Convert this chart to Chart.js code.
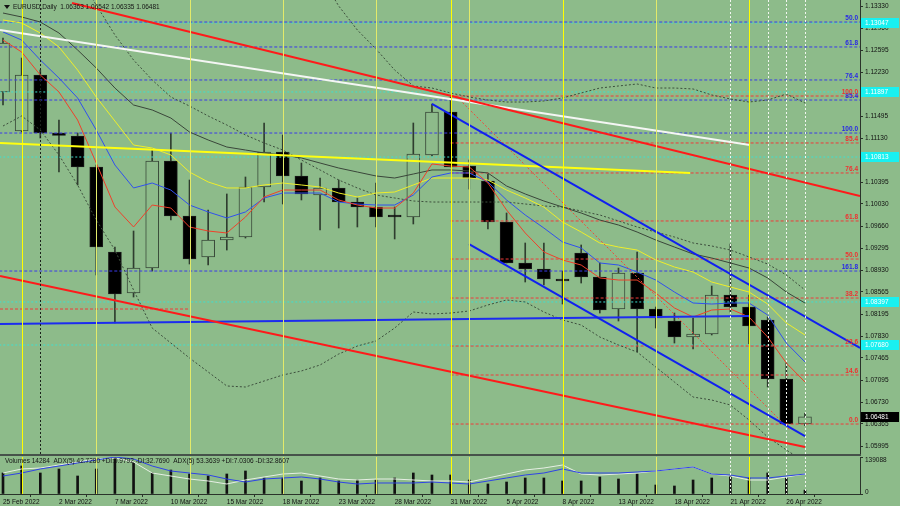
<!DOCTYPE html>
<html>
<head>
<meta charset="utf-8">
<script src="https://cdn.jsdelivr.net/npm/chart.js@4.4.0/dist/chart.umd.min.js"></script>
<style>
html, body { margin: 0; padding: 0; background: #8dbb8a; }
#wrap { position: relative; width: 900px; height: 506px; overflow: hidden; }
#main { position: absolute; left: 0; top: 0; }
#vol { position: absolute; left: 0; top: 456px; }
</style>
</head>
<body>
<div id="wrap">
<canvas id="main" width="900" height="456"></canvas>
<canvas id="vol" width="900" height="50"></canvas>
</div>
<script>
// EURUSD daily, 25 Feb 2022 .. 27 Apr 2022 (bar index 0..43)
const dates = ["25 Feb 2022", "2 Mar 2022", "7 Mar 2022", "10 Mar 2022", "15 Mar 2022", "18 Mar 2022", "23 Mar 2022",
    "28 Mar 2022", "31 Mar 2022", "5 Apr 2022", "8 Apr 2022", "13 Apr 2022", "18 Apr 2022", "21 Apr 2022", "26 Apr 2022"];
const dateBars = [0, 3, 6, 9, 12, 15, 18, 21, 24, 27, 30, 33, 36, 39, 42];

const openP = [1.11897, 1.11247, 1.1218, 1.11213, 1.11163, 1.10647, 1.0923, 1.08547, 1.08963, 1.10747, 1.0983,
    1.09147, 1.0943, 1.0948, 1.10313, 1.10897, 1.10497, 1.1018, 1.10297, 1.10063, 1.0998, 1.09847, 1.09813,
    1.10847, 1.11563, 1.10663, 1.10413, 1.0973, 1.09047, 1.08947, 1.0878, 1.09213, 1.08813, 1.0828, 1.0888,
    1.0828, 1.0808, 1.07813, 1.07863, 1.08513, 1.08313, 1.08097, 1.07113, 1.06363];
const highP = [1.12797, 1.12463, 1.12263, 1.1143, 1.11213, 1.1068, 1.09313, 1.0958, 1.10947, 1.11213, 1.1043,
    1.0993, 1.10197, 1.1048, 1.1138, 1.1118, 1.10713, 1.10463, 1.1043, 1.1013, 1.1038, 1.0998, 1.1138,
    1.11697, 1.11813, 1.10763, 1.1053, 1.0988, 1.0938, 1.0938, 1.08913, 1.09347, 1.09047, 1.08963, 1.0923,
    1.08313, 1.08213, 1.0813, 1.08663, 1.09363, 1.08513, 1.08147, 1.0738, 1.06542];
const lowP = [1.1168, 1.1123, 1.1113, 1.10563, 1.10347, 1.08847, 1.08047, 1.0848, 1.08913, 1.09763, 1.0903,
    1.09013, 1.09263, 1.09463, 1.10063, 1.1003, 1.10097, 1.09597, 1.0963, 1.09647, 1.09647, 1.09447, 1.09697,
    1.1083, 1.10647, 1.1028, 1.09613, 1.09047, 1.0873, 1.0868, 1.08363, 1.08713, 1.08213, 1.0808, 1.07563,
    1.07963, 1.07713, 1.07613, 1.07847, 1.0823, 1.07697, 1.0698, 1.06355, 1.06335];
const closeP = [1.12713, 1.1218, 1.11213, 1.11172, 1.10647, 1.09313, 1.0853, 1.08963, 1.10747, 1.0983, 1.09113,
    1.0943, 1.0948, 1.10313, 1.10897, 1.10497, 1.10197, 1.10297, 1.10063, 1.0998, 1.09813, 1.09813, 1.10863,
    1.11563, 1.10647, 1.10463, 1.0973, 1.09047, 1.08947, 1.0878, 1.08747, 1.08813, 1.08263, 1.0888, 1.0828,
    1.0813, 1.07813, 1.07863, 1.08513, 1.08313, 1.07997, 1.07113, 1.06363, 1.06481];

// moving averages
const maRed = [1.12763, 1.12563, 1.1218, 1.11897, 1.1143, 1.10713, 1.0998, 1.09647, 1.10013, 1.09963, 1.09647,
    1.0958, 1.09547, 1.09813, 1.10147, 1.10263, 1.10263, 1.10263, 1.10097, 1.10013, 1.09963, 1.09963, 1.10213,
    1.10697, 1.10663, 1.10647, 1.1038, 1.0993, 1.09547, 1.0923, 1.09097, 1.09013, 1.08797, 1.08763, 1.08763,
    1.08547, 1.08297, 1.08147, 1.08263, 1.0828, 1.08147, 1.07813, 1.0738, 1.07063];
const maBlue = [1.12897, 1.12763, 1.1243, 1.1213, 1.11797, 1.11263, 1.1068, 1.10297, 1.1038, 1.10263, 1.10013,
    1.09897, 1.09797, 1.09897, 1.1013, 1.10213, 1.10213, 1.10213, 1.10063, 1.1003, 1.10013, 1.10013, 1.1018,
    1.1048, 1.10547, 1.10547, 1.10397, 1.10097, 1.09847, 1.0963, 1.09397, 1.09297, 1.09047, 1.09013, 1.08897,
    1.08763, 1.08563, 1.0838, 1.08363, 1.0838, 1.0838, 1.0818, 1.07713, 1.07397];
const maYellow = [1.13097, 1.13047, 1.1288, 1.12647, 1.12263, 1.11813, 1.11413, 1.11013, 1.10963, 1.10847, 1.10563,
    1.10397, 1.10297, 1.10297, 1.10347, 1.1038, 1.10347, 1.10313, 1.10213, 1.10147, 1.10213, 1.1023, 1.10347,
    1.10463, 1.10463, 1.10463, 1.1043, 1.10263, 1.1013, 1.0998, 1.0973, 1.09563, 1.0938, 1.09313, 1.09263,
    1.09097, 1.0898, 1.08897, 1.0873, 1.08647, 1.08563, 1.08363, 1.08047, 1.07847];
const maGray = [1.13213, 1.13147, 1.13063, 1.1288, 1.12597, 1.12297, 1.11963, 1.1168, 1.11597, 1.11463, 1.1123,
    1.11097, 1.1098, 1.1093, 1.1088, 1.10847, 1.10797, 1.10713, 1.1063, 1.10563, 1.10497, 1.10463, 1.1053,
    1.10597, 1.10597, 1.1058, 1.10547, 1.1033, 1.10197, 1.1008, 1.0998, 1.0988, 1.09763, 1.0968, 1.09563,
    1.0943, 1.09313, 1.09197, 1.0913, 1.09047, 1.08963, 1.08797, 1.08563, 1.0838];

// bollinger bands
const bbUpper = [null, null, null, null, null, null, null, null, null, null, null, null, null, null, null, null,
    1.14347, 1.13847, 1.1333, 1.1293, 1.12613, 1.12263, 1.11997, 1.11963, 1.1188, 1.11813, 1.11763, 1.1173,
    1.1173, 1.11747, 1.11797, 1.1188, 1.11963, 1.11997, 1.1203, 1.11963, 1.11963, 1.11947, 1.11847, 1.1178,
    1.1173, 1.11763, 1.11863, 1.11713];
const bbMiddle = [null, null, null, null, 1.13847, 1.13347, 1.12847, 1.1243, 1.12097, 1.11813, 1.11663, 1.11497,
    1.11347, 1.1118, 1.11047, 1.1093, 1.10763, 1.10597, 1.1043, 1.10297, 1.1018, 1.1013, 1.1008, 1.10063,
    1.10063, 1.10063, 1.10063, 1.10063, 1.1003, 1.09997, 1.0998, 1.09913, 1.09847, 1.09747, 1.09647, 1.09563,
    1.0948, 1.0938, 1.0933, 1.09263, 1.09147, 1.0903, 1.08847, 1.08597];
const bbLower = [1.1133, 1.11497, 1.11263, 1.10847, 1.10347, 1.09763, 1.09263, 1.08597, 1.07963, 1.07713, 1.07463,
    1.0723, 1.06997, 1.0698, 1.0708, 1.0718, 1.07247, 1.07347, 1.0753, 1.07663, 1.07747, 1.07963, 1.0823,
    1.08197, 1.08213, 1.08247, 1.08347, 1.0843, 1.08397, 1.0823, 1.08097, 1.08013, 1.07813, 1.0768, 1.07563,
    1.07313, 1.07063, 1.06813, 1.06763, 1.0668, 1.0643, 1.06147, 1.0593, 1.0573];

// drawn objects: [bar index, price] end points
const redUpperTrend = [[3.70, 1.1338], [45.95, 1.10163]];
const redLowerTrend = [[-0.16, 1.0883], [43.0, 1.0598]];
const whiteTrend = [[-0.16, 1.1293], [40.05, 1.11013]];
const yellowTrend = [[-0.16, 1.11047], [36.84, 1.10547]];
const blueChannelTop = [[23.0, 1.11697], [45.95, 1.0763]];
const blueChannelBottom = [[24.99, 1.09363], [43.0, 1.06163]];
const redDottedTrend = [[24.34, 1.11813], [42.2, 1.06263]];
const blueLevelLine = [[-0.16, 1.0803], [40.05, 1.08163]];

const fibBlueLevels = ["50.0", "61.8", "76.4", "85.4", "100.0", "161.8"];
const fibBluePrices = [1.13063, 1.12647, 1.12097, 1.11763, 1.11213, 1.08913];
const fibRedLevels = ["100.0", "85.4", "76.4", "61.8", "50.0", "38.2", "23.6", "14.6", "0.0"];
const fibRedPrices = [1.1183, 1.11047, 1.10547, 1.09747, 1.09113, 1.08463, 1.07663, 1.0718, 1.06363];
const fibRedStart = 24;
const oldRedLevel = [[-0.16, 1.0828], [10.03, 1.0828]];
const cyanPrices = [1.13047, 1.11897, 1.10813, 1.08397, 1.0768];

const yellowBars = [1, 5, 10, 15, 20, 24, 25, 30, 35, 40];
const yellowBright = [1, 24, 30, 40];
const whiteDotBars = [39, 41, 42, 43];
const blackDotBars = [2];

const yTicks = [1.1333, 1.1296, 1.12595, 1.1223, 1.1186, 1.11495, 1.1113, 1.1076, 1.10395, 1.1003, 1.0966,
    1.09295, 1.0893, 1.08565, 1.08195, 1.0783, 1.07465, 1.07095, 1.0673, 1.06365, 1.05995];

// volume panel
const volumes = [79000, 105300, 79000, 94000, 67700, 94000, 139088, 116600, 79000, 90200, 75200, 67700, 75200,
    86500, 60200, 60200, 48900, 60200, 48900, 52600, 52600, 60200, 79000, 71400, 71400, 52600, 37600, 45100,
    60200, 60200, 48900, 48900, 63900, 56400, 75200, 33800, 30100, 52600, 60200, 67700, 60200, 79000, 60200, 14284];
const volTicks = [0, 139088];
const adxBlue = [38.9, 45.4, 54.1, 60.5, 67.0, 73.5, 80.0, 75.7, 60.5, 49.7, 45.4, 41.1, 32.4, 25.9, 32.4, 34.6,
    36.8, 32.4, 25.9, 21.6, 23.8, 23.8, 23.8, 25.9, 23.8, 21.6, 28.1, 34.6, 41.1, 45.4, 54.1, 45.4, 45.4, 45.4,
    47.6, 49.7, 54.1, 58.4, 43.2, 41.1, 34.6, 34.6, 38.9, 43.2];
const adxWhite = [45.4, 54.1, 56.2, 62.7, 69.2, 75.7, 77.8, 69.2, 45.4, 38.9, 32.4, 28.1, 21.6, 30.3, 36.8, 43.2,
    45.4, 38.9, 32.4, 30.3, 32.4, 32.4, 30.3, 28.1, 28.1, 25.9, 34.6, 43.2, 51.9, 56.2, 62.7, 43.2, 41.1, 43.2,
    45.4, 49.7, 54.1, 58.4, 43.2, 38.9, 30.3, 30.3, 36.8, 43.2];

const headerText = "EURUSD,Daily  1.06363 1.06542 1.06335 1.06481";
const volHeaderText = "Volumes 14284  ADX(5) 42.7280 +DI:9.9792 -DI:32.7690  ADX(5) 53.3639 +DI:7.0306 -DI:32.8607";
const lastPrice = 1.06481;

const bg = "#8dbb8a";
const axisColor = "#2a332a";
const font = "Liberation Sans";
const xMin = -0.161, xMax = 45.95;
const yMax = 1.1343, yMin = 1.0583;

const bars = [...Array(openP.length).keys()];
const series = arr => arr.map((v, i) => ({x: i, y: v}));
const seg = arr => arr.map(p => ({x: p[0], y: p[1]}));
const flat = (x0, x1, p) => [{x: x0, y: p}, {x: x1, y: p}];

function lineSet(data, color, width, dash, order) {
    return {type: "line", data: data, borderColor: color, borderWidth: width, borderDash: dash || [],
        pointRadius: 0, tension: 0, fill: false, order: order || 5};
}

function drawVerticals(chart, withBlack) {
    const {ctx, chartArea: a, scales: {x}} = chart;
    ctx.save();
    ctx.lineWidth = 1;
    const vline = (i) => {
        const px = Math.round(x.getPixelForValue(i)) + 0.5;
        ctx.beginPath(); ctx.moveTo(px, a.top); ctx.lineTo(px, a.bottom); ctx.stroke();
    };
    yellowBars.forEach(i => {
        ctx.setLineDash([]);
        ctx.strokeStyle = yellowBright.includes(i) ? "#ffff00" : "#e2ea6a";
        vline(i);
    });
    ctx.setLineDash([2, 2]);
    ctx.strokeStyle = "#f2f6f0";
    whiteDotBars.forEach(vline);
    if (withBlack) {
        ctx.strokeStyle = "#1c221c";
        blackDotBars.forEach(vline);
    }
    ctx.restore();
}

const mainDecor = {
    id: "mainDecor",
    beforeDraw(chart) {
        const ctx = chart.ctx;
        ctx.save(); ctx.fillStyle = bg; ctx.fillRect(0, 0, chart.width, chart.height); ctx.restore();
    },
    afterDatasetsDraw(chart) {
        drawVerticals(chart, true);
    },
    afterDraw(chart) {
        const {ctx, chartArea: a, scales: {y}} = chart;
        ctx.save();
        ctx.font = "bold 6.5px '" + font + "'";
        ctx.textAlign = "right";
        ctx.textBaseline = "bottom";
        ctx.fillStyle = "#2828e6";
        fibBlueLevels.forEach((t, k) => ctx.fillText(t, a.right - 2, Math.round(y.getPixelForValue(fibBluePrices[k])) - 1));
        ctx.fillStyle = "#f03030";
        fibRedLevels.forEach((t, k) => ctx.fillText(t, a.right - 2, Math.round(y.getPixelForValue(fibRedPrices[k])) - 1));

        // price boxes on the axis
        ctx.font = "6.5px '" + font + "'";
        ctx.textAlign = "left";
        ctx.textBaseline = "middle";
        cyanPrices.forEach(p => {
            const py = Math.round(y.getPixelForValue(p));
            ctx.fillStyle = "#19f0f0";
            ctx.fillRect(a.right + 1, py - 5, 38, 10);
            ctx.fillStyle = "#ffffff";
            ctx.fillText(p.toFixed(5), a.right + 5, py);
        });
        const ly = Math.round(y.getPixelForValue(lastPrice));
        ctx.fillStyle = "#000000";
        ctx.fillRect(a.right + 1, ly - 5, 38, 10);
        ctx.fillStyle = "#ffffff";
        ctx.fillText(lastPrice.toFixed(5), a.right + 5, ly);

        // header
        ctx.fillStyle = "#141414";
        ctx.beginPath(); ctx.moveTo(4, 5); ctx.lineTo(10, 5); ctx.lineTo(7, 9); ctx.closePath(); ctx.fill();
        ctx.font = "6.5px '" + font + "'";
        ctx.fillText(headerText, 13, 7);

        // panel separator
        ctx.fillStyle = "#46524a";
        ctx.fillRect(0, a.bottom - 2, a.right + 1, 2);
        ctx.restore();
    }
};

const volDecor = {
    id: "volDecor",
    beforeDraw(chart) {
        const ctx = chart.ctx;
        ctx.save(); ctx.fillStyle = bg; ctx.fillRect(0, 0, chart.width, chart.height); ctx.restore();
    },
    afterDatasetsDraw(chart) {
        drawVerticals(chart, false);
    },
    afterDraw(chart) {
        const {ctx, chartArea: a} = chart;
        ctx.save();
        ctx.font = "6.5px '" + font + "'";
        ctx.fillStyle = "#141414";
        ctx.textBaseline = "middle";
        ctx.fillText(volHeaderText, 5, 5);
        // axis values, kept inside the panel like the terminal does
        ctx.fillText(String(volTicks[1]), a.right + 5, 4);
        ctx.fillText(String(volTicks[0]), a.right + 5, a.bottom - 2);
        ctx.restore();
    }
};

const tickFont = {family: font, size: 6.5};

new Chart(document.getElementById("main"), {
    type: "line",
    data: {
        datasets: [
            {type: "bar", data: bars.map(i => ({x: i, y: [lowP[i], highP[i]]})), barThickness: 1,
                backgroundColor: "#2f3d2f", grouped: false, order: 30},
            {type: "bar", data: bars.map(i => ({x: i, y: [openP[i], closeP[i]]})), barThickness: 13,
                backgroundColor: bars.map(i => closeP[i] < openP[i] ? "#000000" : bg),
                borderColor: bars.map(i => closeP[i] < openP[i] ? "#1a1a1a" : "#3a4a3a"),
                borderWidth: 1, borderSkipped: false, minBarLength: 1, grouped: false, order: 20},
            ...cyanPrices.map(p => lineSet(flat(-0.2, xMax, p), "#3fe0d0", 1, [2, 2], 12)),
            ...fibBluePrices.map(p => lineSet(flat(-0.2, xMax, p), "#3a3ae8", 1, [3, 2], 11)),
            ...fibRedPrices.map(p => lineSet(flat(fibRedStart, xMax, p), "#f03a3a", 1, [3, 2], 11)),
            lineSet(seg(oldRedLevel), "#f03a3a", 1, [3, 2], 11),
            lineSet(series(bbUpper), "#3d4f3d", 1, [2, 2], 9),
            lineSet(series(bbMiddle), "#3d4f3d", 1, [2, 2], 9),
            lineSet(series(bbLower), "#3d4f3d", 1, [2, 2], 9),
            lineSet(series(maGray), "#3a463a", 1, null, 8),
            lineSet(series(maYellow), "#eeee2a", 1, null, 7),
            lineSet(series(maBlue), "#3050ee", 1, null, 6),
            lineSet(series(maRed), "#f0402a", 1, null, 5),
            lineSet(seg(redDottedTrend), "#f04a3a", 1, [2, 2], 4),
            lineSet(seg(yellowTrend), "#ffff10", 2, null, 3),
            lineSet(seg(whiteTrend), "#f4f6f4", 2, null, 3),
            lineSet(seg(blueLevelLine), "#1c2cf0", 2, null, 3),
            lineSet(seg(blueChannelTop), "#1020f0", 2, null, 2),
            lineSet(seg(blueChannelBottom), "#1020f0", 2, null, 2),
            lineSet(seg(redUpperTrend), "#ff1a1a", 2, null, 1),
            lineSet(seg(redLowerTrend), "#ff1a1a", 2, null, 1)
        ]
    },
    options: {
        responsive: false,
        animation: false,
        events: [],
        layout: {padding: 0},
        plugins: {legend: {display: false}, tooltip: {enabled: false}},
        scales: {
            x: {type: "linear", min: xMin, max: xMax, offset: false, display: false},
            y: {
                position: "right", min: yMin, max: yMax,
                afterBuildTicks: s => { s.ticks = yTicks.map(v => ({value: v})); },
                afterFit: s => { s.width = 40; s.paddingTop = 0; s.paddingBottom = 0; },
                ticks: {font: tickFont, color: "#111111", padding: 2, autoSkip: false, callback: v => v.toFixed(5)},
                grid: {drawOnChartArea: false, drawTicks: true, tickLength: 3, color: axisColor},
                border: {display: true, color: axisColor, width: 1}
            }
        }
    },
    plugins: [mainDecor]
});

new Chart(document.getElementById("vol"), {
    type: "line",
    data: {
        datasets: [
            {type: "bar", data: series(volumes), barThickness: 2, backgroundColor: "#111111", grouped: false,
                yAxisID: "y", order: 10},
            Object.assign(lineSet(series(adxWhite), "#e6efe4", 1, null, 2), {yAxisID: "ya"}),
            Object.assign(lineSet(series(adxBlue), "#2f43e6", 1, null, 1), {yAxisID: "ya"})
        ]
    },
    options: {
        responsive: false,
        animation: false,
        events: [],
        layout: {padding: {top: 1, left: 0, right: 0, bottom: 0}},
        plugins: {legend: {display: false}, tooltip: {enabled: false}},
        scales: {
            x: {
                type: "linear", min: xMin, max: xMax, offset: false, position: "bottom",
                afterBuildTicks: s => { s.ticks = dateBars.map(v => ({value: v})); },
                afterFit: s => { s.height = 12; s.paddingLeft = 0; s.paddingRight = 0; },
                ticks: {font: tickFont, color: "#111111", align: "start", maxRotation: 0, autoSkip: false, padding: 1,
                    callback: (v, k) => dates[k]},
                grid: {drawOnChartArea: false, drawTicks: true, tickLength: 3, color: axisColor},
                border: {display: true, color: axisColor, width: 1}
            },
            y: {
                position: "right", min: volTicks[0], max: volTicks[1],
                afterBuildTicks: s => { s.ticks = volTicks.map(v => ({value: v})); },
                afterFit: s => { s.width = 40; s.paddingTop = 0; s.paddingBottom = 0; },
                ticks: {font: tickFont, color: "#111111", padding: 2, autoSkip: false, callback: () => ""},
                grid: {drawOnChartArea: false, drawTicks: true, tickLength: 3, color: axisColor},
                border: {display: true, color: axisColor, width: 1}
            },
            ya: {type: "linear", display: false, min: 0, max: 80}
        }
    },
    plugins: [volDecor]
});
</script>
</body>
</html>
